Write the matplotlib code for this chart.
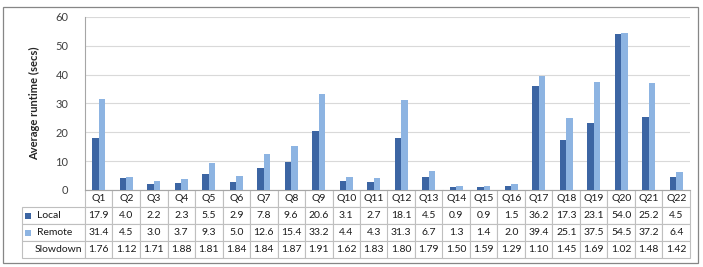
import matplotlib
matplotlib.use("Agg")
import matplotlib.pyplot as plt
from matplotlib.patches import Rectangle
import numpy as np

queries = [f"Q{i}" for i in range(1, 23)]
local = [17.9, 4.0, 2.2, 2.3, 5.5, 2.9, 7.8, 9.6, 20.6, 3.1, 2.7, 18.1, 4.5, 0.9,
         0.9, 1.5, 36.2, 17.3, 23.1, 54.0, 25.2, 4.5]
remote = [31.4, 4.5, 3.0, 3.7, 9.3, 5.0, 12.6, 15.4, 33.2, 4.4, 4.3, 31.3, 6.7, 1.3,
          1.4, 2.0, 39.4, 25.1, 37.5, 54.5, 37.2, 6.4]
slowdown = [1.76, 1.12, 1.71, 1.88, 1.81, 1.84, 1.84, 1.87, 1.91, 1.62, 1.83, 1.80,
            1.79, 1.50, 1.59, 1.29, 1.10, 1.45, 1.69, 1.02, 1.48, 1.42]
series_names = ["Local", "Remote", "Slowdown"]
yticks = [0, 10, 20, 30, 40, 50, 60]

c_local = "#3C65A3"
c_remote = "#8DB4E2"
grid_c = "#D9D9D9"
edge_c = "#BFBFBF"

plt.rcParams['font.family'] = ['Lato', 'DejaVu Sans']

W, H = 703, 267
fig = plt.figure(figsize=(W / 100, H / 100), dpi=100)
ax_l, ax_r, ax_t, ax_b = 85, 690, 17, 190
ax = fig.add_axes([ax_l / W, (H - ax_b) / H, (ax_r - ax_l) / W, (ax_b - ax_t) / H])

x = np.arange(len(queries))
bw = 0.23
ax.bar(x - bw / 2, local, width=bw, color=c_local, zorder=3)
ax.bar(x + bw / 2, remote, width=bw, color=c_remote, zorder=3)

ax.set_xlim(-0.5, len(queries) - 0.5)
ax.set_ylim(0, 60)
ax.set_yticks(yticks)
ax.set_yticklabels([str(v) for v in yticks], fontsize=8, color="#404040")
ax.tick_params(axis='y', length=0, pad=12)
ax.set_xticks([])
ax.yaxis.grid(True, color=grid_c, linewidth=0.8, zorder=0)
ax.set_axisbelow(True)
for s in ["top", "right"]:
    ax.spines[s].set_visible(False)
ax.spines["left"].set_color("#A6A6A6")
ax.spines["bottom"].set_color("#A6A6A6")
ax.spines["left"].set_linewidth(0.8)
ax.spines["bottom"].set_linewidth(0.8)
ax.set_ylabel("Average runtime (secs)", fontsize=8, fontweight="bold", labelpad=11,
              color="#262626")

# data table
cell_text = [[""] + queries,
             ["Local"] + [f"{v:.1f}" for v in local],
             ["Remote"] + [f"{v:.1f}" for v in remote],
             ["Slowdown"] + [f"{v:.2f}" for v in slowdown]]
pw = ax_r - ax_l
tbl_left = 22
tbl_bottom = 258
colw = [ax_l - tbl_left] + [pw / len(queries)] * len(queries)
tbl = ax.table(cellText=cell_text, colWidths=colw, cellLoc="center",
               bbox=[(tbl_left - ax_l) / pw, -(tbl_bottom - ax_b) / (ax_b - ax_t),
                     (ax_r - tbl_left) / pw, (tbl_bottom - ax_b) / (ax_b - ax_t)])
tbl.auto_set_font_size(False)
tbl.set_fontsize(7.5)
for (r, c), cell in tbl.get_celld().items():
    cell.set_edgecolor(edge_c)
    cell.set_linewidth(0.8)
    cell.get_text().set_color("#1a1a1a")
    if r == 0 and c == 0:
        cell.visible_edges = ""
    if c == 0 and r > 0:
        cell._loc = "left"
        cell.get_text().set_horizontalalignment("left")
        cell.PAD = 0.24 if r < 3 else 0.2

# legend keys in the table
row_h = (tbl_bottom - ax_b) / 4
for i, col in enumerate([c_local, c_remote]):
    cy = ax_b + row_h * (1.5 + i)
    ax.add_patch(Rectangle(((25 - ax_l) / pw, -(cy + 3 - ax_b) / (ax_b - ax_t)),
                           6 / pw, 6 / (ax_b - ax_t), transform=ax.transAxes,
                           facecolor=col, edgecolor="none", clip_on=False))

# outer border
fig.add_artist(Rectangle((3 / W, (H - 263) / H), 695 / W, (263 - 7) / H,
                         transform=fig.transFigure, fill=False,
                         edgecolor="#868686", linewidth=0.9))

fig.savefig("out.png", dpi=100)
